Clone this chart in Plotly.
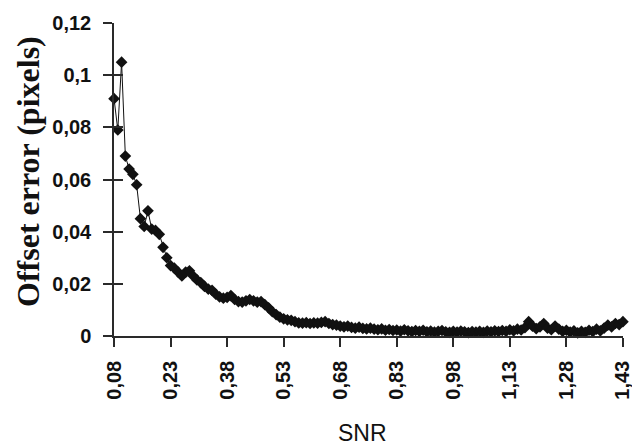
import plotly.graph_objects as go

snr = [round(0.08 + 0.01 * i, 2) for i in range(136)]
offset_error = [
    0.091, 0.079, 0.105, 0.069, 0.064, 0.062, 0.058, 0.045, 0.042, 0.048,
    0.041, 0.0405, 0.039, 0.034, 0.030, 0.027, 0.026, 0.0245, 0.023, 0.0245,
    0.025, 0.023, 0.0215, 0.0205, 0.019, 0.018, 0.0175, 0.016, 0.015, 0.0145,
    0.0148, 0.0155, 0.014, 0.0132, 0.013, 0.0135, 0.014, 0.0135, 0.013, 0.0132,
    0.012, 0.0108, 0.0093, 0.0082, 0.0072, 0.0066, 0.0062, 0.006, 0.0055, 0.005,
    0.0049, 0.0051, 0.0048, 0.005, 0.0049, 0.0052, 0.0055, 0.0048, 0.0044, 0.0042,
    0.0038, 0.0035, 0.0038, 0.0033, 0.003, 0.0034, 0.0029, 0.0027, 0.003, 0.0026,
    0.0024, 0.0027, 0.0022, 0.0025, 0.0021, 0.0023, 0.0019, 0.0024, 0.002, 0.0017,
    0.0021, 0.0018, 0.0022, 0.0016, 0.0019, 0.0015, 0.0018, 0.0021, 0.0016, 0.0014,
    0.0018, 0.0015, 0.0019, 0.0016, 0.0013, 0.0017, 0.0015, 0.0018, 0.0014, 0.0019,
    0.0016, 0.002, 0.0017, 0.0021, 0.0018, 0.0024, 0.002, 0.0026, 0.0023, 0.0032,
    0.0055, 0.0038, 0.0028, 0.0035, 0.0048, 0.003, 0.0024, 0.0038, 0.0026, 0.0018,
    0.0022, 0.0015, 0.002, 0.0012, 0.0018, 0.0014, 0.0022, 0.0017, 0.0026, 0.002,
    0.003, 0.0042, 0.0035, 0.0048, 0.0044, 0.0055,
]

x_tickvals = [0.08, 0.23, 0.38, 0.53, 0.68, 0.83, 0.98, 1.13, 1.28, 1.43]
x_ticktext = ["0,08", "0,23", "0,38", "0,53", "0,68", "0,83", "0,98", "1,13", "1,28", "1,43"]
y_tickvals = [0, 0.02, 0.04, 0.06, 0.08, 0.1, 0.12]
y_ticktext = ["0", "0,02", "0,04", "0,06", "0,08", "0,1", "0,12"]

x_title = "SNR"
y_title = "Offset error (pixels)"

axis_color = "#2a2a2a"
tick_font = dict(family="Liberation Sans, Arial, sans-serif", size=20, color="#111111", weight="bold")

fig = go.Figure()
fig.add_trace(go.Scatter(
    x=snr, y=offset_error, mode="lines+markers",
    line=dict(color="#111111", width=1),
    marker=dict(symbol="diamond", size=9, color="#111111"),
    cliponaxis=False, showlegend=False,
))

fig.update_layout(
    width=632, height=445,
    margin=dict(l=114, r=9, t=23, b=109),
    paper_bgcolor="white", plot_bgcolor="white",
    xaxis=dict(
        range=[0.0799, 1.4302], showgrid=False, zeroline=False, automargin=False,
        showline=True, linecolor=axis_color, linewidth=1.5,
        ticks="outside", ticklen=9, tickwidth=1.5, tickcolor=axis_color,
        tickvals=x_tickvals, ticktext=x_ticktext, tickangle=-90,
        tickfont=tick_font, ticklabelstandoff=6, ticklabeloverflow="allow",
    ),
    yaxis=dict(
        range=[0, 0.12002], showgrid=False, zeroline=False, automargin=False,
        showline=True, linecolor=axis_color, linewidth=1.5,
        ticks="outside", ticklen=9, tickwidth=1.5, tickcolor=axis_color,
        tickvals=y_tickvals, ticktext=y_ticktext,
        tickfont=tick_font, ticklabelstandoff=8, ticklabeloverflow="allow",
    ),
    yaxis2=dict(
        range=[0, 0.12002], overlaying="y", anchor="x", side="left", automargin=False,
        showgrid=False, zeroline=False, showline=False,
        ticks="inside", ticklen=9, tickwidth=1.5, tickcolor=axis_color,
        tickvals=y_tickvals, showticklabels=False,
    ),
    annotations=[
        dict(text=x_title, xref="paper", yref="paper", x=0.488, y=-0.31,
             xanchor="center", yanchor="middle", showarrow=False,
             font=dict(family="Liberation Sans, Arial, sans-serif", size=23, color="#111111")),
        dict(text=y_title, xref="paper", yref="paper", x=-0.168, y=0.5256,
             xanchor="center", yanchor="middle", showarrow=False, textangle=-90,
             font=dict(family="Liberation Serif, Times New Roman, serif", size=32,
                       color="#111111", weight="bold")),
    ],
)
fig.add_trace(go.Scatter(x=[None], y=[None], yaxis="y2", showlegend=False, hoverinfo="skip"))

fig.write_html(
    "out.html",
    config={"displayModeBar": False},
    post_script="document.body.style.margin='0';document.body.style.overflow='hidden';",
)
